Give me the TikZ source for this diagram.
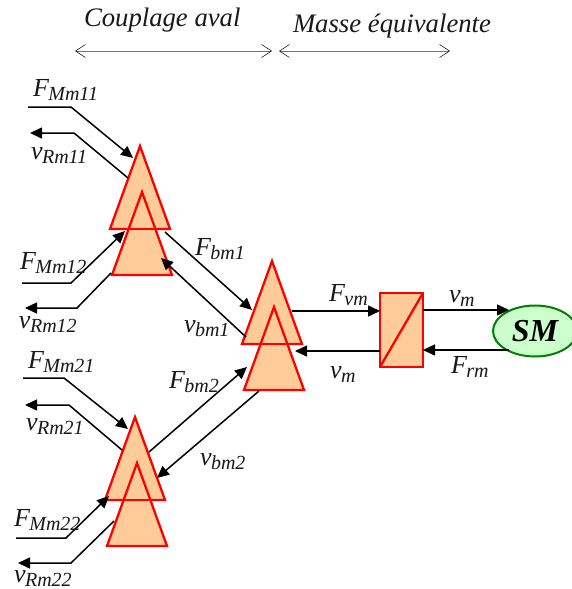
\documentclass[tikz,border=0pt]{standalone}
\usepackage{fontspec}
\setmainfont{Liberation Serif}
\usetikzlibrary{arrows.meta,shapes.geometric,calc}
\definecolor{tanfill}{HTML}{FFCC99}
\definecolor{smfill}{HTML}{CCFFCC}
\definecolor{smline}{HTML}{008000}
\newcommand{\lab}[2]{{\fontsize{26}{28}\selectfont\itshape #1\kern-0.5pt\raisebox{-4pt}{\fontsize{20}{21}\selectfont #2}}}
\tikzset{
  tri/.style={isosceles triangle,isosceles triangle stretches,shape border rotate=90,
    minimum width=60,minimum height=83,inner sep=0,outer sep=0,anchor=apex,
    fill=tanfill,draw=red,line width=2.3pt},
  redline/.style={draw=red,line width=2.3pt},
  arr/.style={draw=black,line width=1.5pt,-{Triangle[length=12pt,width=11pt]}},
  span/.style={draw=black!55,line width=0.9pt,{Straight Barb[length=10pt,width=13pt,black,line width=0.5pt]}-{Straight Barb[length=10pt,width=13pt,black,line width=0.5pt]}},
  txt/.style={inner sep=0,outer sep=0,anchor=base west,text=black!90},
  head/.style={txt,font=\fontsize{26.7}{28}\selectfont\itshape}
}
\begin{document}
\begin{tikzpicture}[x=1pt,y=-1pt]
\clip (0,0) rectangle (572,589);
\fill[white] (0,0) rectangle (572,589);
% triangles
\node[tri] (t1) at (140,146) {};
\node[tri] (t2) at (142,192) {};
\draw[redline] (t1.left corner) -- (t1.right corner);
\node[tri] (t3) at (272,261) {};
\node[tri] (t4) at (274,307) {};
\draw[redline] (t3.left corner) -- (t3.right corner);
\node[tri] (t5) at (135,417) {};
\node[tri] (t6) at (137,463) {};
\draw[redline] (t5.left corner) -- (t5.right corner);
% converter and machine
\node[draw=red,fill=tanfill,line width=2.3pt,minimum width=43,minimum height=74,inner sep=0,outer sep=0] (conv) at (401.5,330) {};
\draw[redline] (conv.south west) -- (conv.north east);
\node[ellipse,draw=smline,fill=smfill,line width=2pt,minimum width=84,minimum height=51,inner sep=0,outer sep=0,
  font=\fontsize{32}{34}\selectfont\bfseries\itshape] (sm) at (535,331) {SM};
% free ends
\coordinate (a1) at (28,107);  \coordinate (a2) at (71,107);
\coordinate (b1) at (30,133);  \coordinate (b2) at (74,133);
\coordinate (c1) at (22,283);  \coordinate (c2) at (71,283);
\coordinate (d1) at (25,308);  \coordinate (d2) at (77,308);
\coordinate (e1) at (23,378);  \coordinate (e2) at (64,378);
\coordinate (f1) at (25,405);  \coordinate (f2) at (69,405);
\coordinate (g1) at (16,538);  \coordinate (g2) at (66,538);
\coordinate (h1) at (18,563);  \coordinate (h2) at (71,563);
\coordinate (s1) at (75,51);   \coordinate (s2) at (272,51);
\coordinate (s3) at (279,51);  \coordinate (s4) at (450,51);
% span arrows
\draw[span] (s1) -- (s2);
\draw[span] (s3) -- (s4);
% inputs and outputs of the blocks
\draw[arr] (a1) -- (a2) -- ($(t1.apex)+(-7,12)$);
\draw[arr] ($(t1.apex)+(-12,32)$) -- (b2) -- (b1);
\draw[arr] (c1) -- (c2) -- ($(t1.apex)+(-15,85)$);
\draw[arr] ($(t2.apex)+(-31,81)$) -- (d2) -- (d1);
\draw[arr] ($(t1.apex)+(25,86)$) -- ($(t3.apex)+(-20,49)$);
\draw[arr] ($(t3.apex)+(-26,76)$) -- ($(t2.apex)+(19,66)$);
\draw[arr] (e1) -- (e2) -- ($(t5.apex)+(-7,12)$);
\draw[arr] ($(t5.apex)+(-13,33)$) -- (f2) -- (f1);
\draw[arr] ($(t5.apex)+(14,35)$) -- ($(t4.apex)+(-27,60)$);
\draw[arr] ($(t4.apex)+(-15,84)$) -- ($(t5.apex)+(22,61)$);
\draw[arr] (g1) -- (g2) -- ($(t5.apex)+(-26,79)$);
\draw[arr] ($(t6.apex)+(-23,58)$) -- (h2) -- (h1);
\draw[arr] ($(t3.apex)+(20,50)$) -- ($(conv.west)+(0,-19)$);
\draw[arr] ($(conv.west)+(0,21)$) -- ($(t3.apex)+(23,90)$);
\draw[arr] ($(conv.east)+(0,-20)$) -- ($(sm.center)+(-26,-21)$);
\draw[arr] ($(sm.center)+(-26,19)$) -- ($(conv.east)+(0,20)$);
% labels
\node[head] (h-a) at (84,27) {Couplage aval};
\node[head] (h-b) at (293,32) {Masse équivalente};
\node[txt] (l1) at (33,96) {\lab{F}{Mm11}};
\node[txt] (l2) at (31,159) {\lab{v}{Rm11}};
\node[txt] (l3) at (20,269) {\lab{F}{Mm12}};
\node[txt] (l4) at (19,328) {\lab{v}{Rm12}};
\node[txt] (l5) at (195,255) {\lab{F}{bm1}};
\node[txt] (l6) at (184,332) {\lab{v}{bm1}};
\node[txt] (l7) at (28,368) {\lab{F}{Mm21}};
\node[txt] (l8) at (26,430) {\lab{v}{Rm21}};
\node[txt] (l9) at (169,388) {\lab{F}{bm2}};
\node[txt] (l10) at (200,465) {\lab{v}{bm2}};
\node[txt] (l11) at (14,526) {\lab{F}{Mm22}};
\node[txt] (l12) at (14,582) {\lab{v}{Rm22}};
\node[txt] (l13) at (329,301) {\lab{F}{vm}};
\node[txt] (l14) at (330,378) {\lab{v}{m}};
\node[txt] (l15) at (449,302) {\lab{v}{m}};
\node[txt] (l16) at (451,373) {\lab{F}{rm}};
\end{tikzpicture}
\end{document}
